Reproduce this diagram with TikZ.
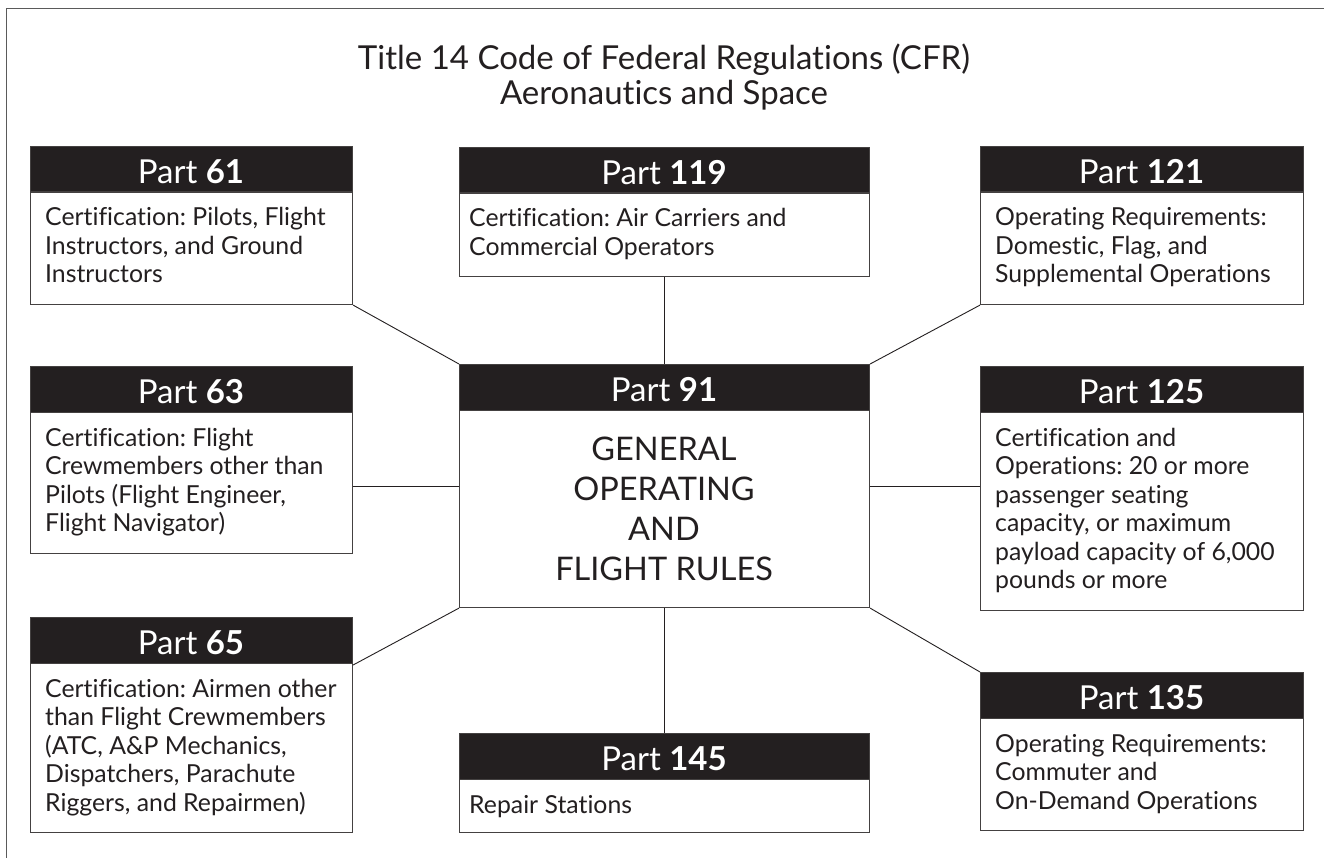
\documentclass[tikz,border=0pt]{standalone}
\usepackage{fontspec}
\setmainfont{Lato}[Ligatures=NoCommon]
\frenchspacing
\usetikzlibrary{calc}
\definecolor{ink}{HTML}{231F20}
\definecolor{framegray}{HTML}{5A5A5A}
\tikzset{
  partframe/.style={rectangle, draw=ink!85, line width=1.1pt, fill=white, inner sep=0pt},
  hdrbar/.style={rectangle, fill=ink, draw=ink!85, line width=1.1pt, inner sep=0pt},
  hdrtext/.style={text=white, font=\fontsize{33}{33}\selectfont, inner sep=0pt},
  bodytext/.style={text=ink, font=\fontsize{24.8}{28.5}\selectfont\frenchspacing, inner sep=0pt},
  centertext/.style={text=ink, font=\fontsize{32.5}{40}\selectfont, inner sep=0pt},
  titletext/.style={text=ink, font=\fontsize{33}{35}\selectfont, inner sep=0pt},
  link/.style={draw=ink, line width=0.9pt},
  outerframe/.style={draw=framegray, line width=1.3pt}
}
% #1 name, #2 x, #3 y, #4 w, #5 h, #6 number, #7 text offset, #8 body lines
\newcommand\PartBox[8]{%
  \node[partframe, minimum width=#4pt, minimum height=#5pt, anchor=north west] (#1) at (#2,#3) {};
  \node[hdrbar, minimum width=#4pt, minimum height=45.5pt, anchor=north west] (#1h) at (#1.north west) {};
  \node[hdrtext, anchor=base] (#1n) at ({#2+#4/2},{#3+37.5}) {Part \textbf{#6}};
  \node[bodytext, anchor=base west] (#1b) at ({#2+#7},{#3+80}) {\begin{tabular}[t]{@{}l@{}}#8\end{tabular}};
}
\begin{document}
\begin{tikzpicture}[x=1pt,y=-1pt]
\useasboundingbox (0,0) rectangle (1324,858);
\fill[white] (0,0) rectangle (1324,858);
\draw[outerframe] (6.5,880) -- (6.5,8.5) -- (1350,8.5);

\node[titletext, anchor=base] (title) at (664,70)
  {\begin{tabular}[t]{@{}c@{}}Title 14 Code of Federal Regulations (CFR)\\Aeronautics and Space\end{tabular}};

\PartBox{p61}{30}{146}{322}{158}{61}{15}{Certification: Pilots, Flight\\Instructors, and Ground\\Instructors}
\PartBox{p119}{459}{147}{410}{129}{119}{10}{Certification: Air Carriers and\\Commercial Operators}
\PartBox{p121}{980}{146}{323}{158}{121}{15}{Operating Requirements:\\Domestic, Flag, and\\Supplemental Operations}
\PartBox{p63}{30}{366}{322}{187}{63}{15}{Certification: Flight\\Crewmembers other than\\Pilots (Flight Engineer,\\Flight Navigator)}
\PartBox{p91}{459}{364}{410}{243}{91}{10}{}
\PartBox{p125}{980}{366}{323}{244}{125}{15}{Certification and\\Operations: 20 or more\\passenger seating\\capacity, or maximum\\payload capacity of 6,000\\pounds or more}
\PartBox{p65}{30}{617}{322}{215}{65}{15}{Certification: Airmen other\\than Flight Crewmembers\\(ATC, A\&P Mechanics,\\Dispatchers, Parachute\\Riggers, and Repairmen)}
\PartBox{p145}{459}{733}{410}{99}{145}{10}{Repair Stations}
\PartBox{p135}{980}{672}{323}{158}{135}{15}{Operating Requirements:\\Commuter and\\On-Demand Operations}

\node[centertext, anchor=base] (p91c) at (664,460)
  {\begin{tabular}[t]{@{}c@{}}GENERAL\\OPERATING\\AND\\FLIGHT RULES\end{tabular}};

\draw[link] (p61.south east) -- (p91.north west);
\draw[link] (p119.south) -- (p91.north);
\draw[link] (p121.south west) -- (p91.north east);
\draw[link] (p91.west) -- (p91.west -| p63.east);
\draw[link] (p91.east) -- (p91.east -| p125.west);
\draw[link] (p91.south west) -- ($(p65.north east)+(0,48)$);
\draw[link] (p91.south) -- (p145.north);
\draw[link] (p91.south east) -- (p135.north west);
\end{tikzpicture}
\end{document}
